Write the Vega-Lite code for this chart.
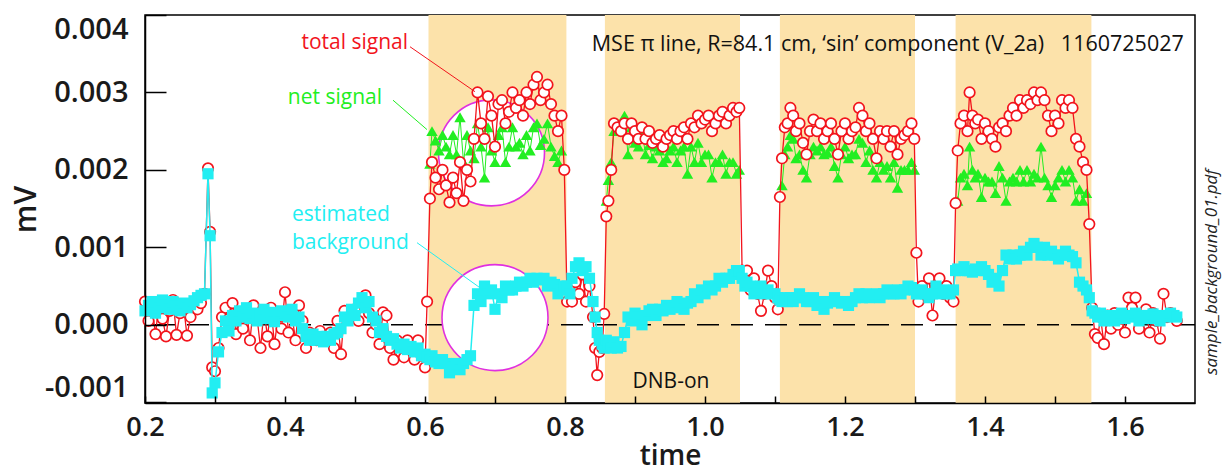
{
"$schema": "https://vega.github.io/schema/vega-lite/v6.json",
"width": 1050, "height": 388,
"autosize": {"type": "none"},
"padding": {"left": 145, "top": 15, "right": 31, "bottom": 73},
"background": "white",
"config": {"view": {"stroke": "black", "strokeWidth": 1.5}, "font": "Open Sans"},
"datasets": {
"sig": [
{"t":0.200,"total":0.0003,"bg":0.00018},
{"t":0.205,"total":0.00005,"bg":0.00025},
{"t":0.210,"total":0.00022,"bg":0.0003},
{"t":0.215,"total":-0.00012,"bg":0.00015},
{"t":0.220,"total":0.00028,"bg":0.00022},
{"t":0.225,"total":0.00008,"bg":0.00032},
{"t":0.230,"total":-0.00015,"bg":0.00026},
{"t":0.235,"total":0.00018,"bg":0.0002},
{"t":0.240,"total":0.00032,"bg":0.0003},
{"t":0.245,"total":-0.00013,"bg":0.00024},
{"t":0.250,"total":0.00015,"bg":0.00018},
{"t":0.255,"total":0.00025,"bg":0.00028},
{"t":0.260,"total":-0.00014,"bg":0.00022},
{"t":0.265,"total":0.0001,"bg":0.00026},
{"t":0.270,"total":0.0003,"bg":0.00031},
{"t":0.275,"total":0.0002,"bg":0.00035},
{"t":0.280,"total":0.00028,"bg":0.00038},
{"t":0.285,"total":0.0004,"bg":0.0004},
{"t":0.290,"total":0.00202,"bg":0.00195},
{"t":0.293,"total":0.0012,"bg":0.00115},
{"t":0.296,"total":-0.00055,"bg":-0.00088},
{"t":0.300,"total":-0.0006,"bg":-0.00075},
{"t":0.305,"total":-0.0003,"bg":-0.00035},
{"t":0.310,"total":0.0001,"bg":-0.0001},
{"t":0.315,"total":0.00022,"bg":0.00005},
{"t":0.320,"total":0.00008,"bg":-0.00008},
{"t":0.325,"total":0.00028,"bg":0.00012},
{"t":0.330,"total":-0.00012,"bg":0.00005},
{"t":0.335,"total":0.00015,"bg":0.00018},
{"t":0.340,"total":-0.00005,"bg":0.0001},
{"t":0.345,"total":0.0002,"bg":0.00022},
{"t":0.350,"total":-0.0002,"bg":0.00008},
{"t":0.355,"total":0.00025,"bg":0.00015},
{"t":0.360,"total":0.0001,"bg":0.00005},
{"t":0.365,"total":-0.0003,"bg":0.00012},
{"t":0.370,"total":0.00018,"bg":0.0002},
{"t":0.375,"total":-0.00015,"bg":0.00008},
{"t":0.380,"total":0.00022,"bg":0.00016},
{"t":0.385,"total":-0.00025,"bg":0.00004},
{"t":0.390,"total":0.0001,"bg":0.00012},
{"t":0.395,"total":-0.00005,"bg":0.00018},
{"t":0.400,"total":0.00042,"bg":0.00015},
{"t":0.405,"total":-0.0001,"bg":0.0001},
{"t":0.410,"total":0.00012,"bg":0.0002},
{"t":0.415,"total":-0.0002,"bg":0.00005},
{"t":0.420,"total":0.00025,"bg":0.0001},
{"t":0.425,"total":0.00005,"bg":-0.00005},
{"t":0.430,"total":-0.0003,"bg":-0.00015},
{"t":0.435,"total":-0.0001,"bg":-0.0002},
{"t":0.440,"total":-0.00018,"bg":-0.00012},
{"t":0.445,"total":-0.0002,"bg":-0.0002},
{"t":0.450,"total":-0.00008,"bg":-0.00015},
{"t":0.455,"total":-0.0002,"bg":-0.00022},
{"t":0.460,"total":-0.00015,"bg":-0.00015},
{"t":0.465,"total":-0.0001,"bg":-0.0002},
{"t":0.470,"total":-0.0003,"bg":-0.00012},
{"t":0.475,"total":0.00005,"bg":-0.0001},
{"t":0.480,"total":-0.00038,"bg":-0.00005},
{"t":0.485,"total":0.00018,"bg":0.0001},
{"t":0.490,"total":0.00008,"bg":0.00005},
{"t":0.495,"total":0.0001,"bg":0.0002},
{"t":0.500,"total":0.0002,"bg":0.00012},
{"t":0.505,"total":0.00005,"bg":0.00028},
{"t":0.510,"total":0.0003,"bg":0.00035},
{"t":0.515,"total":0.00038,"bg":0.00022},
{"t":0.520,"total":0.00015,"bg":0.0003},
{"t":0.525,"total":-0.0001,"bg":0.0001},
{"t":0.530,"total":0.0,"bg":0.00005},
{"t":0.535,"total":-0.00025,"bg":-0.0001},
{"t":0.540,"total":0.00016,"bg":-0.00005},
{"t":0.545,"total":0.00012,"bg":-0.00015},
{"t":0.550,"total":-0.0003,"bg":-0.0002},
{"t":0.555,"total":-0.00045,"bg":-0.00018},
{"t":0.560,"total":-0.0002,"bg":-0.00025},
{"t":0.565,"total":-0.00035,"bg":-0.0003},
{"t":0.570,"total":-0.00042,"bg":-0.00025},
{"t":0.575,"total":-0.0002,"bg":-0.00032},
{"t":0.580,"total":-0.0003,"bg":-0.00028},
{"t":0.585,"total":-0.00045,"bg":-0.00035},
{"t":0.590,"total":-0.0002,"bg":-0.0003},
{"t":0.595,"total":-0.0004,"bg":-0.0004},
{"t":0.600,"total":-0.00055,"bg":-0.00038},
{"t":0.603,"total":0.0003,"bg":-0.00042},
{"t":0.607,"total":0.00163,"bg":-0.00045,"net":0.00208},
{"t":0.610,"total":0.0021,"bg":-0.0004,"net":0.0025},
{"t":0.615,"total":0.0019,"bg":-0.00048,"net":0.00238},
{"t":0.620,"total":0.00175,"bg":-0.0005,"net":0.00225},
{"t":0.625,"total":0.002,"bg":-0.00045,"net":0.00245},
{"t":0.630,"total":0.0018,"bg":-0.0005,"net":0.0023},
{"t":0.635,"total":0.00158,"bg":-0.00062,"net":0.0022},
{"t":0.640,"total":0.0019,"bg":-0.00055,"net":0.00245},
{"t":0.645,"total":0.0017,"bg":-0.0005,"net":0.0022},
{"t":0.650,"total":0.0021,"bg":-0.00058,"net":0.00268},
{"t":0.655,"total":0.0016,"bg":-0.0005,"net":0.0021},
{"t":0.660,"total":0.002,"bg":-0.00045,"net":0.00245},
{"t":0.665,"total":0.00185,"bg":-0.0004,"net":0.00225},
{"t":0.670,"total":0.0024,"bg":0.00025,"net":0.00215},
{"t":0.675,"total":0.003,"bg":0.0004,"net":0.0026},
{"t":0.680,"total":0.0026,"bg":0.0003,"net":0.0023},
{"t":0.685,"total":0.0024,"bg":0.0005,"net":0.0019},
{"t":0.690,"total":0.00295,"bg":0.0004,"net":0.00255},
{"t":0.695,"total":0.0027,"bg":0.00045,"net":0.00225},
{"t":0.700,"total":0.0023,"bg":0.0002,"net":0.0021},
{"t":0.705,"total":0.00285,"bg":0.0004,"net":0.00245},
{"t":0.710,"total":0.0029,"bg":0.00035,"net":0.00255},
{"t":0.715,"total":0.0026,"bg":0.0005,"net":0.0021},
{"t":0.720,"total":0.00275,"bg":0.00045,"net":0.0023},
{"t":0.725,"total":0.003,"bg":0.00045,"net":0.00255},
{"t":0.730,"total":0.0028,"bg":0.0005,"net":0.0023},
{"t":0.735,"total":0.0029,"bg":0.00055,"net":0.00235},
{"t":0.740,"total":0.0027,"bg":0.0005,"net":0.0022},
{"t":0.745,"total":0.003,"bg":0.00055,"net":0.00245},
{"t":0.750,"total":0.00285,"bg":0.0006,"net":0.00225},
{"t":0.755,"total":0.0031,"bg":0.00055,"net":0.00255},
{"t":0.760,"total":0.0032,"bg":0.0006,"net":0.0026},
{"t":0.765,"total":0.0029,"bg":0.00058,"net":0.00232},
{"t":0.770,"total":0.003,"bg":0.0006,"net":0.0024},
{"t":0.775,"total":0.0031,"bg":0.0005,"net":0.0026},
{"t":0.780,"total":0.00285,"bg":0.00055,"net":0.0023},
{"t":0.785,"total":0.0027,"bg":0.00052,"net":0.00218},
{"t":0.790,"total":0.0025,"bg":0.0004,"net":0.0021},
{"t":0.795,"total":0.0027,"bg":0.00045,"net":0.00225},
{"t":0.799,"total":0.002,"bg":0.0005},
{"t":0.803,"total":0.0003,"bg":0.0005},
{"t":0.807,"total":0.0005,"bg":0.0004},
{"t":0.810,"total":0.0003,"bg":0.0006},
{"t":0.815,"total":0.00055,"bg":0.00075},
{"t":0.820,"total":0.0004,"bg":0.0008},
{"t":0.825,"total":0.00065,"bg":0.0007},
{"t":0.830,"total":0.0003,"bg":0.00075},
{"t":0.835,"total":0.0005,"bg":0.0006},
{"t":0.840,"total":0.0001,"bg":0.0003},
{"t":0.843,"total":-0.0003,"bg":0.0001},
{"t":0.846,"total":-0.00065,"bg":-0.0001},
{"t":0.849,"total":-0.00035,"bg":-0.0002},
{"t":0.853,"total":-0.0003,"bg":-0.00025},
{"t":0.856,"total":0.00014,"bg":-0.0003},
{"t":0.859,"total":0.0014,"bg":-0.0002,"net":0.0016},
{"t":0.862,"total":0.0016,"bg":-0.00025,"net":0.00187},
{"t":0.866,"total":0.002,"bg":-0.0003,"net":0.0021},
{"t":0.870,"total":0.0026,"bg":-0.00022,"net":0.0025},
{"t":0.875,"total":0.00255,"bg":-0.0003,"net":0.0026},
{"t":0.880,"total":0.0025,"bg":-0.00028,"net":0.0025},
{"t":0.885,"total":0.0026,"bg":-0.0001,"net":0.0027},
{"t":0.890,"total":0.0024,"bg":0.0001,"net":0.0022},
{"t":0.895,"total":0.0026,"bg":0.00005,"net":0.00255},
{"t":0.900,"total":0.0025,"bg":0.00015,"net":0.00235},
{"t":0.905,"total":0.0024,"bg":0.0001,"net":0.0023},
{"t":0.910,"total":0.00255,"bg":0.0,"net":0.0025},
{"t":0.915,"total":0.0024,"bg":0.00012,"net":0.0022},
{"t":0.920,"total":0.0025,"bg":0.00018,"net":0.00232},
{"t":0.925,"total":0.00235,"bg":0.0002,"net":0.00215},
{"t":0.930,"total":0.0024,"bg":0.00012,"net":0.0023},
{"t":0.935,"total":0.00245,"bg":0.0002,"net":0.00225},
{"t":0.940,"total":0.0023,"bg":0.00018,"net":0.0021},
{"t":0.945,"total":0.0024,"bg":0.00025,"net":0.00215},
{"t":0.950,"total":0.00245,"bg":0.0002,"net":0.00225},
{"t":0.955,"total":0.0025,"bg":0.00022,"net":0.0023},
{"t":0.960,"total":0.0024,"bg":0.0003,"net":0.0021},
{"t":0.965,"total":0.0025,"bg":0.00025,"net":0.00225},
{"t":0.970,"total":0.00255,"bg":0.0002,"net":0.0023},
{"t":0.975,"total":0.0024,"bg":0.00028,"net":0.00195},
{"t":0.980,"total":0.0026,"bg":0.0003,"net":0.0023},
{"t":0.985,"total":0.00255,"bg":0.0004,"net":0.0021},
{"t":0.990,"total":0.0027,"bg":0.00035,"net":0.00235},
{"t":0.995,"total":0.0026,"bg":0.00045,"net":0.0021},
{"t":1.000,"total":0.00265,"bg":0.0004,"net":0.0022},
{"t":1.005,"total":0.0027,"bg":0.0005,"net":0.0022},
{"t":1.010,"total":0.0025,"bg":0.00045,"net":0.0019},
{"t":1.015,"total":0.0026,"bg":0.0005,"net":0.0021},
{"t":1.020,"total":0.0027,"bg":0.0006,"net":0.0021},
{"t":1.025,"total":0.00275,"bg":0.00055,"net":0.0022},
{"t":1.030,"total":0.0026,"bg":0.0006,"net":0.00195},
{"t":1.035,"total":0.0027,"bg":0.0006,"net":0.0021},
{"t":1.040,"total":0.0028,"bg":0.00065,"net":0.0021},
{"t":1.045,"total":0.00275,"bg":0.0007,"net":0.00195},
{"t":1.049,"total":0.0028,"bg":0.0007,"net":0.002},
{"t":1.053,"total":0.0007,"bg":0.0006},
{"t":1.057,"total":0.0006,"bg":0.0005},
{"t":1.060,"total":0.0007,"bg":0.00055},
{"t":1.065,"total":0.00045,"bg":0.0005},
{"t":1.070,"total":0.0006,"bg":0.0004},
{"t":1.075,"total":0.0004,"bg":0.00045},
{"t":1.080,"total":0.00018,"bg":0.0005},
{"t":1.085,"total":0.0004,"bg":0.0004},
{"t":1.090,"total":0.0007,"bg":0.00045},
{"t":1.095,"total":0.0005,"bg":0.0004},
{"t":1.100,"total":0.00035,"bg":0.0004},
{"t":1.104,"total":0.0002,"bg":0.00035},
{"t":1.107,"total":0.00165,"bg":0.00032},
{"t":1.110,"total":0.00215,"bg":0.0003,"net":0.0018},
{"t":1.114,"total":0.00255,"bg":0.00035,"net":0.0022},
{"t":1.118,"total":0.0026,"bg":0.0003,"net":0.0023},
{"t":1.122,"total":0.0028,"bg":0.00035,"net":0.00245},
{"t":1.126,"total":0.0027,"bg":0.0003,"net":0.0024},
{"t":1.130,"total":0.0025,"bg":0.00035,"net":0.00215},
{"t":1.135,"total":0.0026,"bg":0.0004,"net":0.0022},
{"t":1.140,"total":0.00235,"bg":0.00035,"net":0.002},
{"t":1.145,"total":0.0022,"bg":0.0003,"net":0.0019},
{"t":1.150,"total":0.0025,"bg":0.0003,"net":0.0022},
{"t":1.155,"total":0.00265,"bg":0.00035,"net":0.0023},
{"t":1.160,"total":0.0025,"bg":0.00025,"net":0.00225},
{"t":1.165,"total":0.0026,"bg":0.0003,"net":0.0023},
{"t":1.170,"total":0.0024,"bg":0.0002,"net":0.0022},
{"t":1.175,"total":0.0025,"bg":0.00028,"net":0.00222},
{"t":1.180,"total":0.0026,"bg":0.0003,"net":0.0023},
{"t":1.185,"total":0.0024,"bg":0.00035,"net":0.00205},
{"t":1.190,"total":0.0022,"bg":0.0003,"net":0.0019},
{"t":1.195,"total":0.0025,"bg":0.00028,"net":0.0022},
{"t":1.200,"total":0.0026,"bg":0.0003,"net":0.0023},
{"t":1.205,"total":0.0024,"bg":0.00025,"net":0.00215},
{"t":1.210,"total":0.0025,"bg":0.0003,"net":0.0022},
{"t":1.215,"total":0.00255,"bg":0.00035,"net":0.0022},
{"t":1.220,"total":0.0028,"bg":0.0004,"net":0.0024},
{"t":1.225,"total":0.0027,"bg":0.00035,"net":0.00235},
{"t":1.230,"total":0.0025,"bg":0.0004,"net":0.0021},
{"t":1.235,"total":0.0026,"bg":0.00035,"net":0.00225},
{"t":1.240,"total":0.0024,"bg":0.00038,"net":0.002},
{"t":1.245,"total":0.00215,"bg":0.0004,"net":0.0019},
{"t":1.250,"total":0.0025,"bg":0.00035,"net":0.0021},
{"t":1.255,"total":0.0024,"bg":0.0004,"net":0.002},
{"t":1.260,"total":0.0025,"bg":0.00045,"net":0.00205},
{"t":1.265,"total":0.0023,"bg":0.0004,"net":0.0019},
{"t":1.270,"total":0.0025,"bg":0.0004,"net":0.0021},
{"t":1.275,"total":0.0022,"bg":0.00045,"net":0.00177},
{"t":1.280,"total":0.0024,"bg":0.0004,"net":0.002},
{"t":1.285,"total":0.00245,"bg":0.00045,"net":0.002},
{"t":1.290,"total":0.0025,"bg":0.0005,"net":0.002},
{"t":1.295,"total":0.0026,"bg":0.00048,"net":0.0021},
{"t":1.299,"total":0.0024,"bg":0.00045,"net":0.002},
{"t":1.302,"total":0.00093,"bg":0.0004},
{"t":1.305,"total":0.0003,"bg":0.0004},
{"t":1.310,"total":0.0005,"bg":0.00045},
{"t":1.315,"total":0.0004,"bg":0.0004},
{"t":1.320,"total":0.0006,"bg":0.00035},
{"t":1.325,"total":0.00012,"bg":0.0004},
{"t":1.330,"total":0.0005,"bg":0.0005},
{"t":1.335,"total":0.0006,"bg":0.0004},
{"t":1.340,"total":0.0004,"bg":0.00045},
{"t":1.345,"total":0.0005,"bg":0.0004},
{"t":1.350,"total":0.00035,"bg":0.0004},
{"t":1.355,"total":0.0003,"bg":0.00045},
{"t":1.358,"total":0.00157,"bg":0.0007},
{"t":1.361,"total":0.00225,"bg":0.00072,"net":0.0016},
{"t":1.365,"total":0.0026,"bg":0.0007,"net":0.0019},
{"t":1.370,"total":0.0027,"bg":0.00075,"net":0.00195},
{"t":1.375,"total":0.0025,"bg":0.0007,"net":0.0018},
{"t":1.378,"total":0.003,"bg":0.0007,"net":0.0023},
{"t":1.382,"total":0.0027,"bg":0.00068,"net":0.002},
{"t":1.386,"total":0.0026,"bg":0.00072,"net":0.0019},
{"t":1.390,"total":0.00265,"bg":0.0007,"net":0.00195},
{"t":1.395,"total":0.0024,"bg":0.00075,"net":0.00165},
{"t":1.400,"total":0.0026,"bg":0.0007,"net":0.0019},
{"t":1.405,"total":0.0025,"bg":0.00065,"net":0.00185},
{"t":1.410,"total":0.0024,"bg":0.00055,"net":0.00185},
{"t":1.415,"total":0.0023,"bg":0.0006,"net":0.0017},
{"t":1.420,"total":0.00255,"bg":0.0005,"net":0.00205},
{"t":1.425,"total":0.0026,"bg":0.0007,"net":0.0019},
{"t":1.430,"total":0.0025,"bg":0.0009,"net":0.0016},
{"t":1.435,"total":0.0027,"bg":0.00085,"net":0.00185},
{"t":1.440,"total":0.0028,"bg":0.0009,"net":0.0019},
{"t":1.445,"total":0.0027,"bg":0.00085,"net":0.00185},
{"t":1.450,"total":0.0029,"bg":0.0009,"net":0.002},
{"t":1.455,"total":0.0028,"bg":0.00095,"net":0.00185},
{"t":1.460,"total":0.0029,"bg":0.0009,"net":0.002},
{"t":1.465,"total":0.00285,"bg":0.001,"net":0.00185},
{"t":1.470,"total":0.003,"bg":0.00105,"net":0.00195},
{"t":1.475,"total":0.0029,"bg":0.001,"net":0.0019},
{"t":1.480,"total":0.003,"bg":0.0009,"net":0.0023},
{"t":1.485,"total":0.0029,"bg":0.001,"net":0.0019},
{"t":1.490,"total":0.0027,"bg":0.0009,"net":0.0018},
{"t":1.495,"total":0.0025,"bg":0.00095,"net":0.00165},
{"t":1.500,"total":0.0027,"bg":0.0009,"net":0.0018},
{"t":1.505,"total":0.0026,"bg":0.00085,"net":0.0019},
{"t":1.510,"total":0.0029,"bg":0.0009,"net":0.002},
{"t":1.515,"total":0.0028,"bg":0.00095,"net":0.00185},
{"t":1.520,"total":0.0029,"bg":0.0009,"net":0.002},
{"t":1.525,"total":0.0028,"bg":0.00088,"net":0.0019},
{"t":1.530,"total":0.0024,"bg":0.0008,"net":0.0016},
{"t":1.535,"total":0.0023,"bg":0.00055,"net":0.00175},
{"t":1.540,"total":0.0021,"bg":0.0005,"net":0.0016},
{"t":1.545,"total":0.002,"bg":0.00045,"net":0.0017},
{"t":1.549,"total":0.0013,"bg":0.00035},
{"t":1.553,"total":0.00022,"bg":0.00018},
{"t":1.557,"total":-0.00012,"bg":0.00015},
{"t":1.561,"total":-0.00017,"bg":0.0001},
{"t":1.565,"total":0.0001,"bg":0.00015},
{"t":1.570,"total":-0.00025,"bg":0.00005},
{"t":1.575,"total":0.00012,"bg":0.0001},
{"t":1.580,"total":-0.00005,"bg":0.00012},
{"t":1.585,"total":0.00015,"bg":0.00005},
{"t":1.590,"total":0.0,"bg":0.0001},
{"t":1.595,"total":0.00008,"bg":0.00015},
{"t":1.600,"total":-0.0001,"bg":0.00008},
{"t":1.605,"total":0.00035,"bg":0.00012},
{"t":1.610,"total":0.00022,"bg":0.0001},
{"t":1.615,"total":0.00035,"bg":0.00015},
{"t":1.620,"total":-0.00005,"bg":0.00005},
{"t":1.625,"total":0.00012,"bg":0.0001},
{"t":1.630,"total":0.0002,"bg":0.00012},
{"t":1.635,"total":-0.0001,"bg":0.00008},
{"t":1.640,"total":0.00015,"bg":0.00014},
{"t":1.645,"total":0.00005,"bg":0.0001},
{"t":1.650,"total":-0.00018,"bg":0.00005},
{"t":1.655,"total":0.0004,"bg":0.00012},
{"t":1.660,"total":0.0001,"bg":0.0001},
{"t":1.665,"total":0.00015,"bg":0.00015},
{"t":1.670,"total":0.0001,"bg":0.00012},
{"t":1.674,"total":0.00005,"bg":0.0001}
],
"shade": [{"s":0.605,"e":0.802},{"s":0.857,"e":1.05},{"s":1.107,"e":1.3},{"s":1.358,"e":1.552}],
"circles": [{"t":0.695,"v":0.00222},{"t":0.7,"v":0.000093}],
"leaders": [
{"series":"total","t1":0.5786,"v1":0.00359,"t2":0.6714,"v2":0.00301},
{"series":"net","t1":0.5543,"v1":0.0029,"t2":0.6029,"v2":0.00252},
{"series":"bg","t1":0.5886,"v1":0.00106,"t2":0.6829,"v2":0.00045}
],
"notes": [
{"series":"total","t":0.5757,"v":0.00364,"label":"total signal","align":"right"},
{"series":"net","t":0.5386,"v":0.00293,"label":"net signal","align":"right"},
{"series":"bg","t":0.41,"v":0.00142,"label":"estimated","align":"left"},
{"series":"bg","t":0.41,"v":0.00106,"label":"background","align":"left"}
]
},
"layer": [
{"data": {"name": "shade"},
 "mark": {"type": "rect", "color": "#FCE2AA"},
 "encoding": {
  "x": {"field": "s", "type": "quantitative", "scale": {"domain": [0.2, 1.7], "nice": false, "zero": false},
   "axis": {"title": "time", "values": [0.2,0.25,0.3,0.35,0.4,0.45,0.5,0.55,0.6,0.65,0.7,0.75,0.8,0.85,0.9,0.95,1.0,1.05,1.1,1.15,1.2,1.25,1.3,1.35,1.4,1.45,1.5,1.55,1.6,1.65],
    "labelExpr": "abs(datum.value*5 - round(datum.value*5)) < 0.001 ? format(datum.value, '.1f') : ''",
    "labelFlush": false, "labelOverlap": false, "labelFontSize": 27, "labelFontWeight": 600, "labelColor": "#1a1a1a",
    "tickSize": -7, "tickColor": "black", "tickWidth": 1.5, "labelPadding": 18, "domain": true, "domainColor": "black", "domainWidth": 1.5,
    "grid": false, "zindex": 1, "titleFontSize": 28, "titleFontWeight": 600, "titleColor": "#1a1a1a", "titlePadding": 2}},
  "x2": {"field": "e"}
 }},
{"data": {"values": [{"v": 0}]},
 "mark": {"type": "rule", "strokeDash": [22, 12], "strokeWidth": 1.6, "color": "black"},
 "encoding": {"y": {"field": "v", "type": "quantitative", "scale": {"domain": [-0.00101, 0.004], "nice": false, "zero": false},
   "axis": {"title": "mV", "values": [-0.001, 0, 0.001, 0.002, 0.003, 0.004],
    "labelExpr": "datum.value < 0 ? '-' + format(-datum.value, '.3f') : format(datum.value, '.3f')",
    "labelFontSize": 29, "labelFontWeight": 600, "labelColor": "#1a1a1a", "labelFlush": true, "labelOverlap": false,
    "tickSize": -21, "tickColor": "black", "tickWidth": 1.5, "labelPadding": 38, "domain": true, "domainColor": "black", "domainWidth": 1.5,
    "grid": false, "zindex": 1, "titleFontSize": 30, "titleFontWeight": 600, "titleColor": "#1a1a1a", "titlePadding": 3}}}},
{"data": {"name": "circles"},
 "mark": {"type": "point", "shape": "circle", "size": 11236, "filled": true, "fill": "white", "stroke": "#E030E0", "strokeWidth": 1.6, "opacity": 1},
 "encoding": {"x": {"field": "t", "type": "quantitative"}, "y": {"field": "v", "type": "quantitative"}}},
{"data": {"name": "sig"},
 "mark": {"type": "line", "color": "#22EE22", "strokeWidth": 1, "invalid": "break-paths-show-domains"},
 "encoding": {"x": {"field": "t", "type": "quantitative"}, "y": {"field": "net", "type": "quantitative"}}},
{"data": {"name": "sig"},
 "transform": [{"filter": "isValid(datum.net)"}],
 "mark": {"type": "point", "shape": "triangle-up", "size": 130, "filled": true, "color": "#22EE22", "opacity": 1},
 "encoding": {"x": {"field": "t", "type": "quantitative"}, "y": {"field": "net", "type": "quantitative"}}},
{"data": {"name": "sig"},
 "mark": {"type": "line", "color": "#F2141C", "strokeWidth": 1.3},
 "encoding": {"x": {"field": "t", "type": "quantitative"}, "y": {"field": "total", "type": "quantitative"}}},
{"data": {"name": "sig"},
 "mark": {"type": "point", "shape": "circle", "size": 110, "filled": true, "fill": "white", "stroke": "#F2141C", "strokeWidth": 1.7, "opacity": 1},
 "encoding": {"x": {"field": "t", "type": "quantitative"}, "y": {"field": "total", "type": "quantitative"}}},
{"data": {"name": "sig"},
 "mark": {"type": "line", "color": "#22EEF2", "strokeWidth": 1.5},
 "encoding": {"x": {"field": "t", "type": "quantitative"}, "y": {"field": "bg", "type": "quantitative"}}},
{"data": {"name": "sig"},
 "mark": {"type": "point", "shape": "square", "size": 125, "filled": true, "color": "#22EEF2", "opacity": 1},
 "encoding": {"x": {"field": "t", "type": "quantitative"}, "y": {"field": "bg", "type": "quantitative"}}},
{"data": {"name": "leaders"},
 "mark": {"type": "rule", "strokeWidth": 1},
 "encoding": {"x": {"field": "t1", "type": "quantitative"}, "y": {"field": "v1", "type": "quantitative"},
  "x2": {"field": "t2"}, "y2": {"field": "v2"},
  "color": {"field": "series", "type": "nominal", "scale": {"domain": ["total", "net", "bg"], "range": ["#F2141C", "#22EE22", "#22EEF2"]}, "legend": null}}},
{"data": {"name": "notes"},
 "transform": [{"filter": "datum.align == 'right'"}],
 "mark": {"type": "text", "align": "right", "baseline": "middle", "fontSize": 21, "font": "Open Sans"},
 "encoding": {"x": {"field": "t", "type": "quantitative"}, "y": {"field": "v", "type": "quantitative"}, "text": {"field": "label"},
  "color": {"field": "series", "type": "nominal", "legend": null}}},
{"data": {"name": "notes"},
 "transform": [{"filter": "datum.align == 'left'"}],
 "mark": {"type": "text", "align": "left", "baseline": "middle", "fontSize": 21, "font": "Open Sans"},
 "encoding": {"x": {"field": "t", "type": "quantitative"}, "y": {"field": "v", "type": "quantitative"}, "text": {"field": "label"},
  "color": {"field": "series", "type": "nominal", "legend": null}}},
{"data": {"values": [{"t": 1.684, "v": 0.00361, "label": "MSE π line, R=84.1 cm, ‘sin’ component (V_2a)\u00a0\u00a0\u00a01160725027"}]},
 "mark": {"type": "text", "align": "right", "baseline": "middle", "fontSize": 21.5, "color": "#111", "font": "Open Sans"},
 "encoding": {"x": {"field": "t", "type": "quantitative"}, "y": {"field": "v", "type": "quantitative"}, "text": {"field": "label"}}},
{"data": {"values": [{"t": 0.9514, "v": -0.00074, "label": "DNB-on"}]},
 "mark": {"type": "text", "align": "center", "baseline": "middle", "fontSize": 21, "color": "#111", "font": "Open Sans"},
 "encoding": {"x": {"field": "t", "type": "quantitative"}, "y": {"field": "v", "type": "quantitative"}, "text": {"field": "label"}}},
{"data": {"values": [{"t": 1.724, "v": 0.00068, "label": "sample_background_01.pdf"}]},
 "mark": {"type": "text", "align": "center", "baseline": "middle", "angle": 270, "fontSize": 17, "fontStyle": "italic", "color": "#222", "font": "Open Sans"},
 "encoding": {"x": {"field": "t", "type": "quantitative"}, "y": {"field": "v", "type": "quantitative"}, "text": {"field": "label"}}}
]
}
